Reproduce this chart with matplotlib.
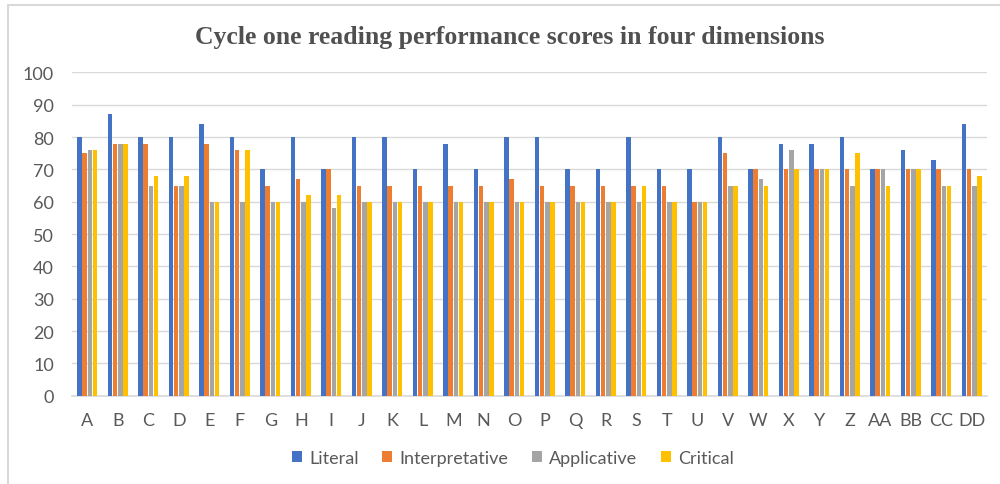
import matplotlib
matplotlib.use("Agg")
import matplotlib.pyplot as plt
import numpy as np
from matplotlib.lines import Line2D

categories = ["A", "B", "C", "D", "E", "F", "G", "H", "I", "J", "K", "L", "M", "N", "O",
              "P", "Q", "R", "S", "T", "U", "V", "W", "X", "Y", "Z", "AA", "BB", "CC", "DD"]
literal =        [80, 87, 80, 80, 84, 80, 70, 80, 70, 80, 80, 70, 78, 70, 80,
                  80, 70, 70, 80, 70, 70, 80, 70, 78, 78, 80, 70, 76, 73, 84]
interpretative = [75, 78, 78, 65, 78, 76, 65, 67, 70, 65, 65, 65, 65, 65, 67,
                  65, 65, 65, 65, 65, 60, 75, 70, 70, 70, 70, 70, 70, 70, 70]
applicative =    [76, 78, 65, 65, 60, 60, 60, 60, 58, 60, 60, 60, 60, 60, 60,
                  60, 60, 60, 60, 60, 60, 65, 67, 76, 70, 65, 70, 70, 65, 65]
critical =       [76, 78, 68, 68, 60, 76, 60, 62, 62, 60, 60, 60, 60, 60, 60,
                  60, 60, 60, 65, 60, 60, 65, 65, 70, 70, 75, 65, 70, 65, 68]
series_names = ["Literal", "Interpretative", "Applicative", "Critical"]
series = [literal, interpretative, applicative, critical]
colors = ["#4472C4", "#ED7D31", "#A5A5A5", "#FFC000"]
yticks = [0, 10, 20, 30, 40, 50, 60, 70, 80, 90, 100]
title = "Cycle one reading performance scores in four dimensions"

plt.rcParams['font.family'] = ['Lato', 'DejaVu Sans']
fig = plt.figure(figsize=(10, 4.85), dpi=100)
ax = fig.add_axes([0.072, 0.182, 0.915, 0.6666])

x = np.arange(len(categories))
slot = 0.172
bw = 0.145
for i, (name, vals, c) in enumerate(zip(series_names, series, colors)):
    ax.bar(x + (i - 1.5) * slot, vals, width=bw, color=c, label=name, zorder=3)

ax.set_xlim(-0.5, len(categories) - 0.5)
ax.set_ylim(0, 100)
ax.set_yticks(yticks)
ax.set_xticks(x)
ax.set_xticklabels(categories)
ax.yaxis.grid(True, color="#D9D9D9", linewidth=1.0, zorder=0)
ax.set_axisbelow(True)
for s in ["top", "right", "left"]:
    ax.spines[s].set_visible(False)
ax.spines["bottom"].set_color("#D9D9D9")
ax.spines["bottom"].set_linewidth(1.2)
ax.tick_params(axis="both", length=0, labelsize=13, labelcolor="#595959")
ax.tick_params(axis="x", pad=12)
ax.tick_params(axis="y", pad=13)

fig.text(0.51, 0.922, title, ha="center", va="center", fontsize=18.5,
         fontweight="bold", family="Liberation Serif", color="#505050")

leg = fig.legend(loc="center", bbox_to_anchor=(0.513, 0.0536), ncol=4, frameon=False,
                 fontsize=13, handlelength=0.55, handleheight=0.55, handletextpad=0.4,
                 columnspacing=1.3, labelcolor="#595959")

# chart border
fig.add_artist(Line2D([0.008, 0.008, 1.0], [0.0, 1 - 6/485, 1 - 6/485],
                      transform=fig.transFigure, color="#D9D9D9", linewidth=1.5))

fig.savefig("out.png", dpi=100)
